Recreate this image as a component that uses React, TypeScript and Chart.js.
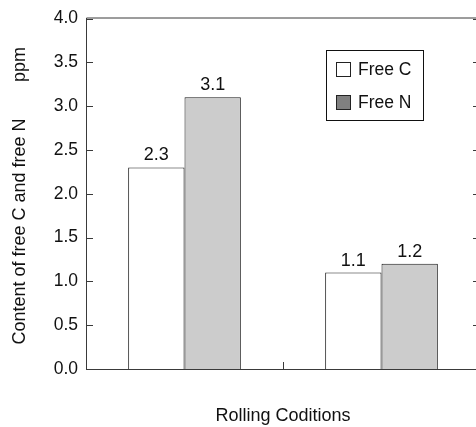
import React, { useEffect, useRef } from "react";
import { Chart, registerables } from "chart.js";

Chart.register(...registerables);

const categories = ["Condition 1", "Condition 2"];
const seriesNames = ["Free C", "Free N"];
const freeC = [2.3, 1.1];
const freeN = [3.1, 1.2];
const yTicks = { min: 0, max: 4, step: 0.5 };
const yTitleMain = "Content of free C and free N";
const yTitleUnit = "ppm";
const xTitle = "Rolling Coditions";

const FONT = "'Liberation Sans', Arial, Helvetica, sans-serif";
const TEXT = "#111111";
const LINE = "#3a3a3a";

const decorPlugin = {
  id: "decor",
  afterDraw(chart: any) {
    const ctx = chart.ctx as CanvasRenderingContext2D;
    const { left, right, top, bottom } = chart.chartArea;
    const ys = chart.scales.y;
    const xs = chart.scales.x;
    ctx.save();
    ctx.strokeStyle = LINE;
    ctx.lineWidth = 1;
    // frame
    ctx.beginPath();
    ctx.moveTo(left + 0.5, bottom + 0.5);
    ctx.lineTo(left + 0.5, top - 0.5);
    ctx.lineTo(right, top - 0.5);
    ctx.moveTo(left, bottom + 0.5);
    ctx.lineTo(right, bottom + 0.5);
    ctx.stroke();
    // y ticks (inward, both sides)
    ctx.beginPath();
    for (const t of ys.ticks) {
      const y = Math.round(ys.getPixelForValue(t.value)) + 0.5;
      ctx.moveTo(left, y);
      ctx.lineTo(left + 7, y);
      ctx.moveTo(right - 7, y);
      ctx.lineTo(right, y);
    }
    // x tick between categories
    const xm = Math.round(xs.getPixelForValue(0.5)) + 0.5;
    ctx.moveTo(xm, bottom);
    ctx.lineTo(xm, bottom - 7);
    ctx.stroke();

    // value labels
    ctx.fillStyle = TEXT;
    ctx.font = `18px ${FONT}`;
    ctx.textAlign = "center";
    ctx.textBaseline = "alphabetic";
    chart.data.datasets.forEach((ds: any, i: number) => {
      const meta = chart.getDatasetMeta(i);
      meta.data.forEach((bar: any, j: number) => {
        ctx.fillText(Number(ds.data[j]).toFixed(1), bar.x, bar.y - 7);
      });
    });

    // legend
    ctx.font = `17.5px ${FONT}`;
    const lx = 326, ly = 50, lw = 97, lh = 70;
    ctx.strokeStyle = "#111";
    ctx.strokeRect(lx + 0.5, ly + 0.5, lw, lh);
    const swatchFill = ["#ffffff", "#808080"];
    chart.data.datasets.forEach((ds: any, i: number) => {
      const sy = 62 + i * 33;
      ctx.fillStyle = swatchFill[i];
      ctx.fillRect(lx + 10.5, sy + 0.5, 14, 14);
      ctx.strokeStyle = "#222";
      ctx.strokeRect(lx + 10.5, sy + 0.5, 14, 14);
      ctx.fillStyle = TEXT;
      ctx.textAlign = "left";
      ctx.textBaseline = "middle";
      ctx.fillText(ds.label, lx + 32, sy + 8);
    });

    // x title
    ctx.font = `18px ${FONT}`;
    ctx.textAlign = "center";
    ctx.textBaseline = "alphabetic";
    ctx.fillText(xTitle, (left + right) / 2, 421);

    // y title
    ctx.save();
    ctx.translate(25, 0);
    ctx.rotate(-Math.PI / 2);
    ctx.textAlign = "center";
    ctx.textBaseline = "alphabetic";
    ctx.fillText(yTitleMain, -231.5, 0);
    ctx.fillText(yTitleUnit, -64.5, 0);
    ctx.restore();

    ctx.restore();
  },
};

export default function App() {
  const ref = useRef<HTMLCanvasElement>(null);
  useEffect(() => {
    if (!ref.current) return;
    const chart = new Chart(ref.current, {
      type: "bar",
      data: {
        labels: categories,
        datasets: [
          {
            label: seriesNames[0],
            data: freeC,
            backgroundColor: "#ffffff",
            borderColor: "#1a1a1a",
            borderWidth: 1,
            categoryPercentage: 0.572,
            barPercentage: 1,
          },
          {
            label: seriesNames[1],
            data: freeN,
            backgroundColor: "#cccccc",
            borderColor: "#1a1a1a",
            borderWidth: 1,
            categoryPercentage: 0.572,
            barPercentage: 1,
          },
        ],
      },
      options: {
        responsive: false,
        animation: false,
        events: [],
        layout: { padding: { left: 0, right: 10, top: 17, bottom: 0 } },
        plugins: { legend: { display: false }, tooltip: { enabled: false } },
        scales: {
          x: {
            offset: true,
            grid: { display: false },
            border: { display: false },
            ticks: { display: false },
            afterFit: (s: any) => {
              s.height = 58;
            },
          },
          y: {
            min: yTicks.min,
            max: yTicks.max,
            grid: { display: false, drawTicks: false },
            border: { display: false },
            ticks: {
              stepSize: yTicks.step,
              padding: 8,
              color: TEXT,
              font: { family: FONT, size: 17.5 },
              callback: (v: any) => Number(v).toFixed(1),
            },
            afterFit: (s: any) => {
              s.width = 86;
            },
          },
        },
      },
      plugins: [decorPlugin],
    });
    return () => chart.destroy();
  }, []);
  return (
    <div
      style={{
        position: "fixed",
        left: 0,
        top: 0,
        width: 476,
        height: 427,
        overflow: "hidden",
        background: "#fff",
      }}
    >
      <canvas ref={ref} width={490} height={427} style={{ width: 490, height: 427, display: "block" }} />
    </div>
  );
}
